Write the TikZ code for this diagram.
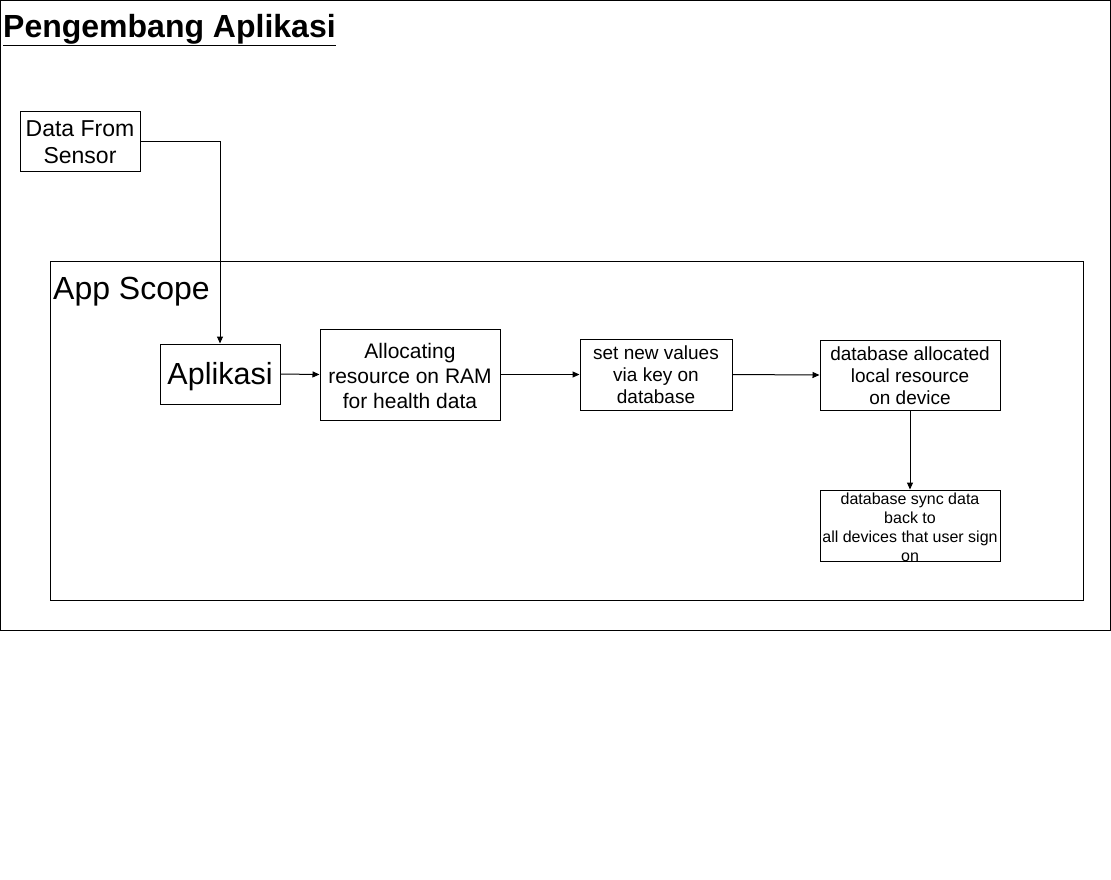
\documentclass[tikz,border=0pt]{standalone}
\usepackage{fontspec}
\setmainfont{Liberation Sans}
\usetikzlibrary{arrows.meta}
\begin{document}
\begin{tikzpicture}[x=1pt,y=-1pt,
  box/.style={draw=black,line width=1pt,inner sep=0pt},
  conn/.style={draw=black,line width=1pt,-{Triangle[length=7pt,width=6pt]}},
  lbl/.style={align=center,inner sep=0pt}]
\useasboundingbox[fill=white] (0,0) rectangle (1111,879);
% outer frame
\node[box,minimum width=1110pt,minimum height=630pt] (frame) at (555.5,315.5) {};
\node[anchor=base west,inner sep=0pt,font=\fontsize{32}{36}\selectfont\bfseries] (title) at (3,37) {\underline{Pengembang Aplikasi}};
% app scope
\node[box,minimum width=1033pt,minimum height=339pt] (scope) at (566.5,430.5) {};
\node[anchor=base west,inner sep=0pt,font=\fontsize{32}{36}\selectfont] (scopelbl) at (53,299) {App Scope};
% boxes
\node[box,minimum width=120pt,minimum height=60pt] (sensor) at (80,141) {};
\node[lbl,font=\fontsize{23}{27}\selectfont] at ([yshift=-1]sensor.center) {Data From\\Sensor};
\node[box,minimum width=120pt,minimum height=60pt] (apl) at (220,374) {};
\node[lbl,font=\fontsize{30.5}{34}\selectfont] at ([yshift=-3]apl.center) {Aplikasi};
\node[box,minimum width=180pt,minimum height=91pt] (alloc) at (410,374.5) {};
\node[lbl,font=\fontsize{21}{25}\selectfont] at ([yshift=-1]alloc.center) {Allocating\\resource on RAM\\for health data};
\node[box,minimum width=152pt,minimum height=71pt] (setv) at (656,374.5) {};
\node[lbl,font=\fontsize{19}{22}\selectfont] at (setv.center) {set new values\\via key on\\database};
\node[box,minimum width=180pt,minimum height=70pt] (dball) at (910,375) {};
\node[lbl,font=\fontsize{19}{22}\selectfont] at ([yshift=-1]dball.center) {database allocated\\local resource\\on device};
\node[box,minimum width=180pt,minimum height=71pt] (sync) at (910,525.5) {};
\node[lbl,font=\fontsize{16}{19}\selectfont] at ([yshift=-2]sync.center) {database sync data\\back to\\all devices that user sign\\on};
% connectors
\draw[conn] (sensor.east) -| (apl.north);
\draw[conn] (apl.east) -- (alloc.west);
\draw[conn] (alloc.east) -- (setv.west);
\draw[conn] (setv.east) -- (dball.west);
\draw[conn] (dball.south) -- (sync.north);
\end{tikzpicture}
\end{document}
